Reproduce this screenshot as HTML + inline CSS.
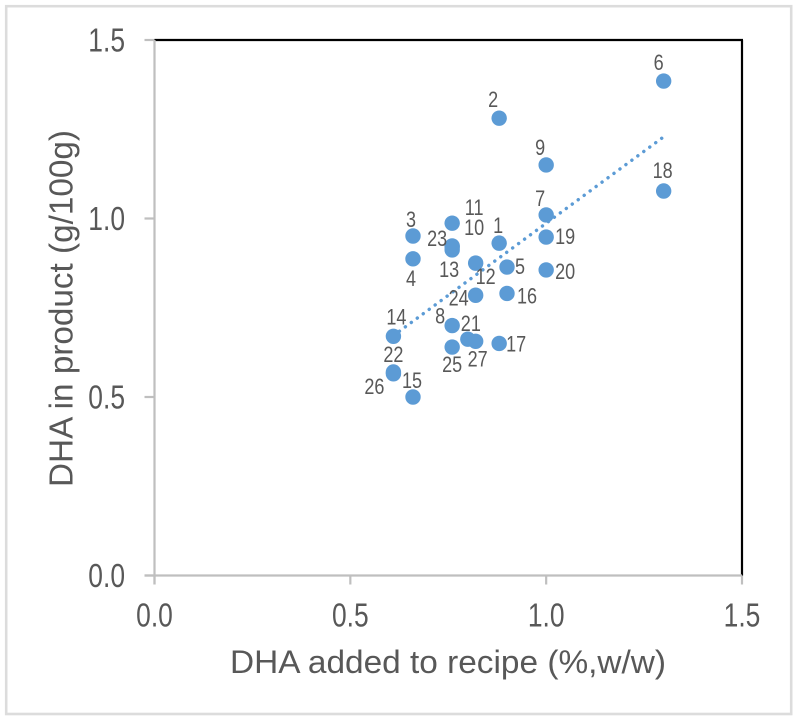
<!DOCTYPE html>
<html lang="en">
<head>
<meta charset="utf-8">
<title>DHA added to recipe vs DHA in product</title>
<style>
html,body{margin:0;padding:0;background:#fff;}
svg{display:block;}
text{font-family:"Liberation Sans",Arial,sans-serif;fill:#595959;}
</style>
</head>
<body>
<svg id="chart" width="797" height="720" viewBox="0 0 797 720" xmlns="http://www.w3.org/2000/svg">
  <defs><filter id="soft" x="-5%" y="-5%" width="110%" height="110%"><feGaussianBlur stdDeviation="0.35"/></filter></defs>
  <rect x="0" y="0" width="797" height="720" fill="#fff"/>
  <rect x="6.2" y="6.2" width="785" height="707.8" fill="none" stroke="#dcdcdc" stroke-width="2.6"/>
  <g id="plot" filter="url(#soft)"></g>
</svg>
<script>
// ---- chart data ----
const pointIds = [1,2,3,4,5,6,7,8,9,10,11,12,13,14,15,16,17,18,19,20,21,22,23,24,25,26,27];
const addedValues = [0.88,0.88,0.66,0.66,0.90,1.30,1.00,0.76,1.00,0.76,0.76,0.82,0.76,0.61,0.66,0.90,0.88,1.30,1.00,1.00,0.80,0.61,0.76,0.82,0.76,0.61,0.82];
const productValues = [0.931,1.281,0.951,0.887,0.864,1.385,1.010,0.700,1.150,0.920,0.987,0.875,0.912,0.670,0.500,0.790,0.650,1.077,0.948,0.856,0.662,0.570,0.923,0.785,0.640,0.565,0.656];
const xTickLabels = ["0.0","0.5","1.0","1.5"];
const yTickLabels = ["0.0","0.5","1.0","1.5"];
const xAxisTitle = "DHA added to recipe (%,w/w)";
const yAxisTitle = "DHA in product (g/100g)";

// ---- layout (not data) ----
const plotLeft = 154.5, plotRight = 742, plotTop = 40, plotBottom = 575.5;
const axisMin = 0, axisMax = 1.5;
const labelDx = [-1,-6,-2,-2,13,-5,-6,-12,-6,22,22,10,-3,3,-1,20,17,-1,19,19,3,0,-15,-17,0,-19,2];
const labelDy = [-18,-19,-17,19,-1,-19,-17,-10,-18,-20,-16,13,19,-20,-17,2,0,-21,-1,1,-16,-18,-8,2,17,12,17];

const NS = "http://www.w3.org/2000/svg";
const plot = document.getElementById("plot");
const xScale = v => plotLeft + (v - axisMin) / (axisMax - axisMin) * (plotRight - plotLeft);
const yScale = v => plotBottom - (v - axisMin) / (axisMax - axisMin) * (plotBottom - plotTop);

function make(tag, attrs, parent) {
  const el = document.createElementNS(NS, tag);
  for (const k in attrs) el.setAttribute(k, attrs[k]);
  (parent || plot).appendChild(el);
  return el;
}

// plot borders
const topBorder = make("line", {x1: plotLeft, y1: plotTop, x2: plotRight + 1, y2: plotTop, stroke: "#000", "stroke-width": 2.2});


const rightBorder = make("line", {x1: plotRight, y1: plotTop, x2: plotRight, y2: plotBottom, stroke: "#000", "stroke-width": 2.2});


const yAxisLine = make("line", {x1: plotLeft, y1: plotTop, x2: plotLeft, y2: plotBottom + 9, stroke: "#bfbfbf", "stroke-width": 2.2});


const xAxisLine = make("line", {x1: plotLeft - 10, y1: plotBottom, x2: plotRight, y2: plotBottom, stroke: "#bfbfbf", "stroke-width": 2.2});



// ticks and tick labels
xTickLabels.forEach(label => {
  const v = parseFloat(label);
  const px = xScale(v);
  const tick = make("line", {x1: px, y1: plotBottom, x2: px, y2: plotBottom + 9, stroke: "#bfbfbf", "stroke-width": 2.2});
  
  
  const t = make("text", {transform: `translate(${px},626.5) scale(0.8,1)`, "text-anchor": "middle", "font-size": 33});
  t.textContent = label;
  
  
});
yTickLabels.forEach(label => {
  const v = parseFloat(label);
  const py = yScale(v);
  const tick = make("line", {x1: plotLeft - 10, y1: py, x2: plotLeft, y2: py, stroke: "#bfbfbf", "stroke-width": 2.2});
  
  
  const t = make("text", {transform: `translate(125,${py + 11.5}) scale(0.8,1)`, "text-anchor": "end", "font-size": 33});
  t.textContent = label;
  
  
});

// axis titles
const xTitle = make("text", {x: 230, y: 673, "font-size": 32.5, textLength: 436, lengthAdjust: "spacingAndGlyphs"});
xTitle.textContent = xAxisTitle;


const yTitle = make("text", {transform: "translate(72.5,487) rotate(-90)", x: 0, y: 0, "font-size": 33, textLength: 357, lengthAdjust: "spacingAndGlyphs"});
yTitle.textContent = yAxisTitle;



// linear trendline (least squares through the series)
const n = addedValues.length;
const meanX = addedValues.reduce((a, b) => a + b, 0) / n;
const meanY = productValues.reduce((a, b) => a + b, 0) / n;
let sxy = 0, sxx = 0;
addedValues.forEach((x, i) => { sxy += (x - meanX) * (productValues[i] - meanY); sxx += (x - meanX) * (x - meanX); });
const slope = sxy / sxx, intercept = meanY - slope * meanX;
const minX = Math.min(...addedValues), maxX = Math.max(...addedValues);
const trend = make("line", {
  x1: xScale(minX), y1: yScale(intercept + slope * minX),
  x2: xScale(maxX), y2: yScale(intercept + slope * maxX),
  stroke: "#5b9bd5", "stroke-width": 3.4, "stroke-linecap": "round", "stroke-dasharray": "0.1 7.3"
});



// points
addedValues.forEach((x, i) => {
  const dot = make("circle", {cx: xScale(x), cy: yScale(productValues[i]), r: 7.7, fill: "#5b9bd5"});
  
  
});

// point labels
pointIds.forEach((id, i) => {
  const px = xScale(addedValues[i]) + labelDx[i];
  const py = yScale(productValues[i]) + labelDy[i] + 8;
  const t = make("text", {transform: `translate(${px},${py}) scale(0.82,1)`, "text-anchor": "middle", "font-size": 22});
  t.textContent = id;
  
  
});
</script>
</body>
</html>
